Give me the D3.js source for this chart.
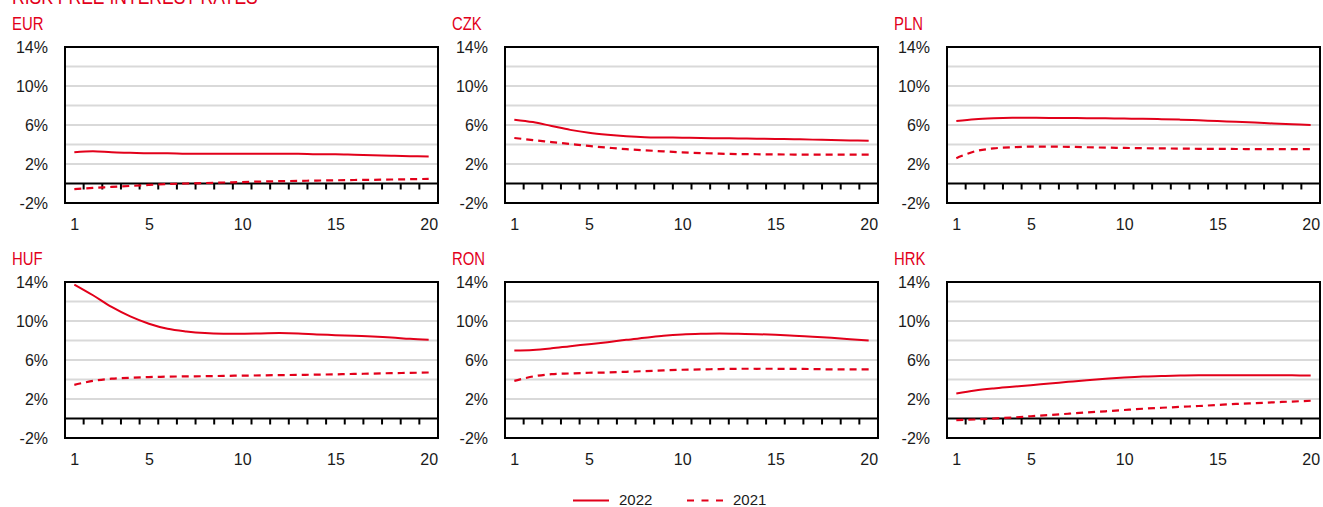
<!DOCTYPE html>
<html>
<head>
<meta charset="utf-8">
<script src="https://cdn.jsdelivr.net/npm/d3@7"></script>
<style>
  html, body { margin: 0; padding: 0; background: #fff; }
  svg { display: block; }
</style>
</head>
<body>
<div id="chart"></div>
<script>
// maturities (years)
const maturities = d3.range(1, 21);
const years = ['2022', '2021'];
const currencies = ['EUR', 'CZK', 'PLN', 'HUF', 'RON', 'HRK'];

// risk free rates in %
const eur2022 = [3.2, 3.3, 3.2, 3.15, 3.1, 3.1, 3.05, 3.05, 3.05, 3.05, 3.05, 3.05, 3.05, 3.0, 3.0, 2.95, 2.9, 2.85, 2.8, 2.78];
const eur2021 = [-0.57, -0.45, -0.35, -0.25, -0.15, -0.06, 0.0, 0.05, 0.1, 0.15, 0.2, 0.24, 0.27, 0.3, 0.33, 0.36, 0.38, 0.41, 0.44, 0.47];
const czk2022 = [6.55, 6.3, 5.9, 5.5, 5.2, 5.0, 4.85, 4.75, 4.72, 4.7, 4.67, 4.64, 4.62, 4.6, 4.57, 4.54, 4.5, 4.46, 4.42, 4.38];
const czk2021 = [4.67, 4.45, 4.25, 4.05, 3.85, 3.68, 3.52, 3.4, 3.3, 3.2, 3.12, 3.06, 3.02, 3.0, 2.98, 2.97, 2.96, 2.96, 2.96, 2.96];
const pln2022 = [6.4, 6.6, 6.7, 6.75, 6.75, 6.73, 6.72, 6.7, 6.68, 6.66, 6.63, 6.6, 6.55, 6.48, 6.4, 6.33, 6.25, 6.15, 6.07, 6.0];
const pln2021 = [2.6, 3.3, 3.6, 3.72, 3.78, 3.78, 3.76, 3.72, 3.68, 3.65, 3.62, 3.6, 3.58, 3.56, 3.55, 3.54, 3.53, 3.52, 3.52, 3.52];
const huf2022 = [13.74, 12.64, 11.44, 10.47, 9.72, 9.2, 8.93, 8.76, 8.69, 8.69, 8.72, 8.76, 8.72, 8.62, 8.55, 8.48, 8.41, 8.31, 8.17, 8.07];
const huf2021 = [3.45, 3.86, 4.08, 4.18, 4.25, 4.29, 4.32, 4.34, 4.37, 4.4, 4.42, 4.45, 4.47, 4.5, 4.53, 4.57, 4.61, 4.65, 4.68, 4.72];
const ron2022 = [6.97, 7.03, 7.2, 7.42, 7.62, 7.83, 8.07, 8.27, 8.48, 8.62, 8.69, 8.72, 8.69, 8.65, 8.58, 8.48, 8.38, 8.27, 8.14, 8.0];
const ron2021 = [3.86, 4.31, 4.55, 4.62, 4.69, 4.72, 4.79, 4.86, 4.93, 5.0, 5.03, 5.07, 5.1, 5.1, 5.1, 5.09, 5.07, 5.04, 5.03, 5.03];
const hrk2022 = [2.57, 2.87, 3.08, 3.25, 3.42, 3.59, 3.76, 3.93, 4.08, 4.21, 4.31, 4.36, 4.41, 4.43, 4.44, 4.44, 4.44, 4.44, 4.43, 4.41];
const hrk2021 = [-0.17, -0.1, 0.0, 0.1, 0.23, 0.36, 0.49, 0.62, 0.74, 0.87, 1.0, 1.1, 1.19, 1.28, 1.39, 1.49, 1.57, 1.66, 1.74, 1.82];

const yTickLabels = [14, 10, 6, 2, -2];
const yGridLines = [12, 10, 8, 6, 4, 2];
const xTickLabels = [1, 5, 10, 15, 20];

const seriesByCurrency = {
    EUR: [eur2022, eur2021], CZK: [czk2022, czk2021], PLN: [pln2022, pln2021],
    HUF: [huf2022, huf2021], RON: [ron2022, ron2021], HRK: [hrk2022, hrk2021]
};

const width = 1323, height = 507;
const red = '#e2001a';
const textColor = '#1a1a1a';
const labelFont = '"Liberation Sans", Arial, sans-serif';
const dash = '7,5';

const svg = d3.select('#chart').append('svg')
    .attr('width', width)
    .attr('height', height)
    .attr('font-family', labelFont);

// no narrow font installed, so squeeze the red headings horizontally
function narrowText(parent, tx, ty, size, squeeze, txt) {
    parent.append('g')
        .attr('transform', `translate(${tx},${ty}) scale(${squeeze},1)`)
        .append('text')
        .attr('fill', red)
        .attr('font-size', size)
        .text(txt);
}

// main title, cut off at the top like in the original
narrowText(svg, 12, 4, 21.4, 0.82, 'RISK FREE INTEREST RATES');

// panel geometry
const colLeft = [65, 505, 947];
const rowTop = [47, 282];
const plotW = 373, plotH = 156;

const x = d3.scaleLinear().domain([0.5, 20.5]).range([0, plotW]);
const y = d3.scaleLinear().domain([-2, 14]).range([plotH, 0]);

const line = d3.line()
    .x((d, i) => x(maturities[i]))
    .y(d => y(d))
    .curve(d3.curveCatmullRom.alpha(0.5));

currencies.forEach((cur, idx) => {
    const left = colLeft[idx % 3];
    const top = rowTop[Math.floor(idx / 3)];
    const g = svg.append('g').attr('transform', `translate(${left},${top})`);

    // panel name
    narrowText(g, -53, -17, 18.6, 0.8, cur);

    // horizontal gridlines
    g.selectAll('line.grid')
        .data(yGridLines)
        .join('line')
        .attr('class', 'grid')
        .attr('x1', 0).attr('x2', plotW)
        .attr('y1', d => y(d)).attr('y2', d => y(d))
        .attr('stroke', '#d9d9d9')
        .attr('stroke-width', 2);

    // y axis labels
    const yAxis = d3.axisLeft(y)
        .tickValues(yTickLabels)
        .tickSize(0)
        .tickPadding(17)
        .tickFormat(d => d + '%');
    g.append('g').call(yAxis)
        .attr('font-family', labelFont)
        .attr('font-size', 16)
        .call(a => a.select('.domain').remove())
        .call(a => a.selectAll('text').attr('fill', textColor));

    // zero line with ticks between the maturities
    g.append('line')
        .attr('x1', 0).attr('x2', plotW)
        .attr('y1', y(0)).attr('y2', y(0))
        .attr('stroke', '#000').attr('stroke-width', 2);
    g.selectAll('line.tick-mark')
        .data(d3.range(1.5, 20.5, 1))
        .join('line')
        .attr('class', 'tick-mark')
        .attr('x1', d => x(d)).attr('x2', d => x(d))
        .attr('y1', y(0)).attr('y2', y(0) + 6)
        .attr('stroke', '#000').attr('stroke-width', 2);

    // x axis labels
    const xAxis = d3.axisBottom(x)
        .tickValues(xTickLabels)
        .tickSize(0)
        .tickPadding(16)
        .tickFormat(d3.format('d'));
    g.append('g').attr('transform', `translate(0,${plotH})`).call(xAxis)
        .attr('font-family', labelFont)
        .attr('font-size', 16)
        .call(a => a.select('.domain').remove())
        .call(a => a.selectAll('text').attr('fill', textColor));

    // curves
    const [s2022, s2021] = seriesByCurrency[cur];
    g.append('path')
        .datum(s2021)
        .attr('d', line)
        .attr('fill', 'none')
        .attr('stroke', red)
        .attr('stroke-width', 2.2)
        .attr('stroke-dasharray', dash);
    g.append('path')
        .datum(s2022)
        .attr('d', line)
        .attr('fill', 'none')
        .attr('stroke', red)
        .attr('stroke-width', 2);

    // frame
    g.append('rect')
        .attr('x', 0).attr('y', 0)
        .attr('width', plotW).attr('height', plotH)
        .attr('fill', 'none')
        .attr('stroke', '#000')
        .attr('stroke-width', 2);
});

// legend
const legend = svg.append('g').attr('transform', 'translate(573,500.5)');
years.forEach((yr, i) => {
    const lg = legend.append('g').attr('transform', `translate(${i * 114},0)`);
    lg.append('line')
        .attr('x1', 0).attr('x2', 36)
        .attr('y1', 0).attr('y2', 0)
        .attr('stroke', red)
        .attr('stroke-width', 2.2)
        .attr('stroke-dasharray', i === 1 ? '7,7.5' : null);
    lg.append('text')
        .attr('x', 46).attr('y', 4)
        .attr('font-size', 15)
        .attr('fill', textColor)
        .text(yr);
});
</script>
</body>
</html>
